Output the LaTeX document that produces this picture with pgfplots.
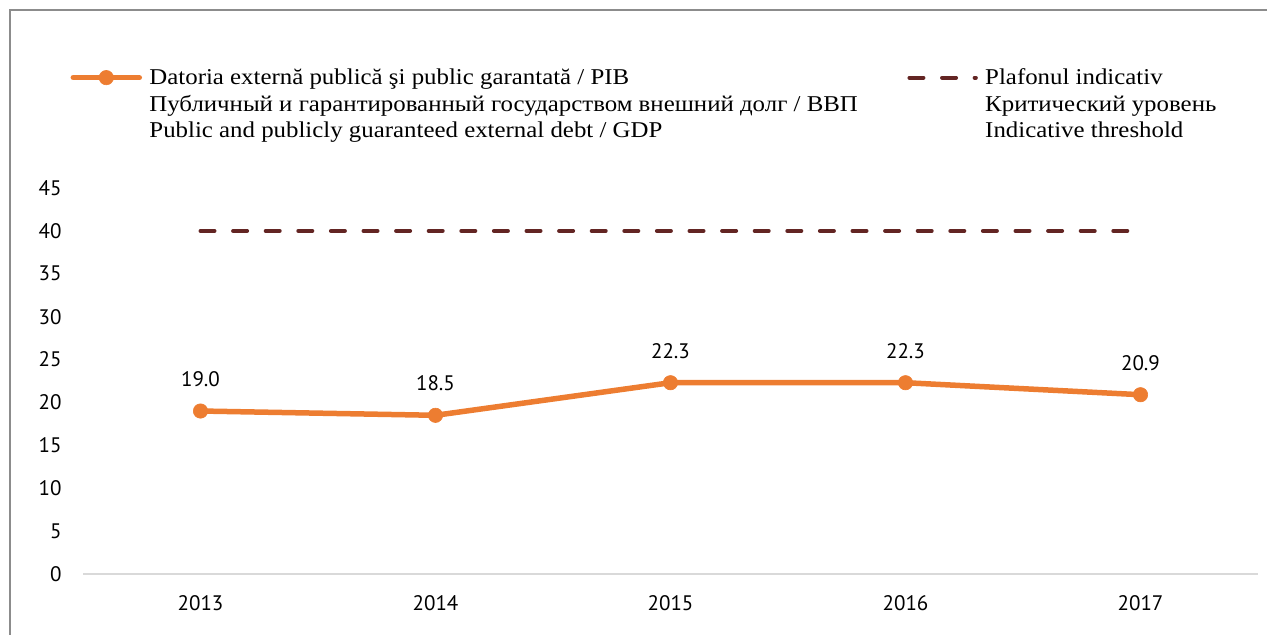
\documentclass[border=0pt]{standalone}
\usepackage{fontspec}
\setmainfont{Liberation Serif}[FakeStretch=1.1]
\newfontfamily\numfont{PT Sans}
\usepackage{pgfplots}
\pgfplotsset{compat=1.18}
\definecolor{dorange}{RGB}{237,125,49}
\definecolor{dbrown}{RGB}{99,37,35}
\definecolor{frame}{RGB}{140,140,140}
\pgfplotsset{
  orangeleg/.style={legend image code/.code={\draw[mark repeat=2, mark phase=2, ##1] plot coordinates {(0pt,3.5pt) (16.5pt,3.5pt) (33pt,3.5pt)};}},
  brownleg/.style={legend image code/.code={\draw[##1] (0pt,3.5pt) -- (33.2pt,3.5pt);}},
}
\begin{document}
\begin{tikzpicture}
\path[use as bounding box] (0,0) rectangle (633.5pt,317.5pt);
\draw[frame, line width=1pt] (4.75pt,0) -- (4.75pt,312.5pt) -- (633.5pt,312.5pt);
\begin{axis}[
  at={(41.5pt,30.5pt)}, anchor=south west, scale only axis,
  width=587.5pt, height=193pt,
  xmin=-0.5, xmax=4.5, ymin=0, ymax=45,
  axis x line=bottom, axis y line=left,
  x axis line style={draw=black!15, line width=1pt, -},
  y axis line style={draw=none},
  major tick length=0pt, tick style={draw=none},
  xtick={0,1,2,3,4}, xticklabels={2013,2014,2015,2016,2017},
  ytick={0,5,...,45},
  /pgf/number format/assume math mode=true,
  ticklabel style={font=\numfont\fontsize{10.5}{12}\selectfont, inner sep=0pt},
  yticklabel style={anchor=east, xshift=-10.5pt},
  xticklabel style={anchor=north, yshift=-10.5pt},
  clip=false,
  legend columns=2,
  legend style={at={(-0.0106,1.309)}, anchor=north west, draw=none, fill=none,
    inner sep=0pt, outer sep=0pt, cells={anchor=base west},
    nodes={inner sep=0pt, text depth=, text height=, font=\fontsize{11.3}{13.25}\selectfont},
    /tikz/every odd column/.append style={column sep=3.7pt},
    row sep=0pt},
]
\addplot[dorange, line width=2.75pt, line cap=round, line join=round,
  mark=*, mark size=3.6pt, mark options={solid, fill=dorange, line width=0.3pt},
  nodes near coords,
  nodes near coords style={font=\numfont\fontsize{10.5}{12}\selectfont, text=black,
    anchor=south, inner sep=0pt, yshift=12pt,
    /pgf/number format/.cd, fixed, fixed zerofill, precision=1, assume math mode=true},
  orangeleg]
  coordinates {(0,19.0) (1,18.5) (2,22.3) (3,22.3) (4,20.9)};
\addlegendentry{\parbox[t]{379pt}{\raggedright Datoria externă publică şi public garantată / PIB\\Публичный и гарантированный государством внешний долг / ВВП\\Public and publicly guaranteed external debt / GDP}}
\addplot[dbrown, line width=2pt, line cap=round, dash pattern=on 7pt off 9.3pt, brownleg]
  coordinates {(0,40) (4,40)};
\addlegendentry{\parbox[t]{150pt}{\raggedright Plafonul indicativ\\Критический уровень\\Indicative threshold}}
\end{axis}
\end{tikzpicture}
\end{document}
